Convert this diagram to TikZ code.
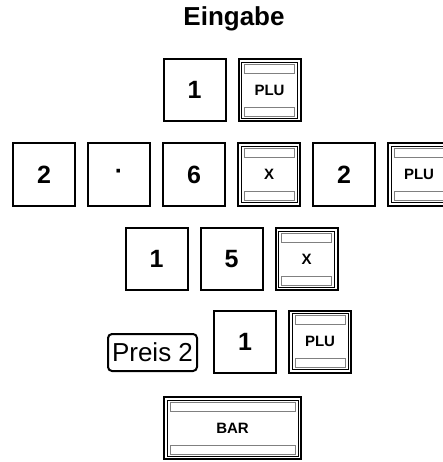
\documentclass[tikz,border=0pt]{standalone}
\usepackage{fontspec}
\setmainfont{Liberation Sans}
\begin{document}
\begin{tikzpicture}[x=1pt,y=-1pt,
  key/.style={draw, line width=2pt, minimum width=62pt, minimum height=62pt, inner sep=0pt,
    font=\fontsize{25}{25}\selectfont\bfseries},
  fkey/.style={key, font=\fontsize{15}{15}\selectfont\bfseries,
    path picture={
      \draw[line width=0.9pt] ([shift={(3pt,3pt)}]path picture bounding box.south west)
        rectangle ([shift={(-3pt,-3pt)}]path picture bounding box.north east);
      \draw[line width=0.8pt, draw=stripgray, fill=white]
        ([shift={(6pt,-5pt)}]path picture bounding box.north west)
        rectangle ([shift={(-6pt,-14pt)}]path picture bounding box.north east);
      \draw[line width=0.8pt, draw=stripgray, fill=white]
        ([shift={(6pt,5pt)}]path picture bounding box.south west)
        rectangle ([shift={(-6pt,14pt)}]path picture bounding box.south east);
    }},
  pkey/.style={draw, line width=2pt, rounded corners=4pt, minimum width=89pt, minimum height=37pt,
    inner sep=0pt, font=\fontsize{26}{26}\selectfont},
  title/.style={font=\fontsize{26}{26}\selectfont\bfseries}
]
\definecolor{stripgray}{RGB}{128,128,128}
\useasboundingbox (0,0) rectangle (442,462);

\node[title, anchor=base] (t) at (234,26) {Eingabe};

% row 1
\node[key]  (a1) at (194.5,90) {1};
\node[fkey] (a2) at (269.5,90) {PLU};

% row 2
\node[key]  (b1) at (44,174.5) {2};
\node[key]  (b2) at (119,174.5) {·};
\node[key]  (b3) at (194,174.5) {6};
\node[fkey] (b4) at (269,174.5) {X};
\node[key]  (b5) at (344,174.5) {2};
\node[fkey] (b6) at (419,174.5) {PLU};

% row 3
\node[key]  (c1) at (156.5,259) {1};
\node[key]  (c2) at (231.5,259) {5};
\node[fkey] (c3) at (306.5,259) {X};

% row 4
\node[pkey] (d0) at (152.5,352.5) {Preis 2};
\node[key]  (d1) at (245,341.5) {1};
\node[fkey] (d2) at (320,341.5) {PLU};

% row 5
\node[fkey, minimum width=137pt] (e1) at (232.5,428) {BAR};
\end{tikzpicture}
\end{document}
